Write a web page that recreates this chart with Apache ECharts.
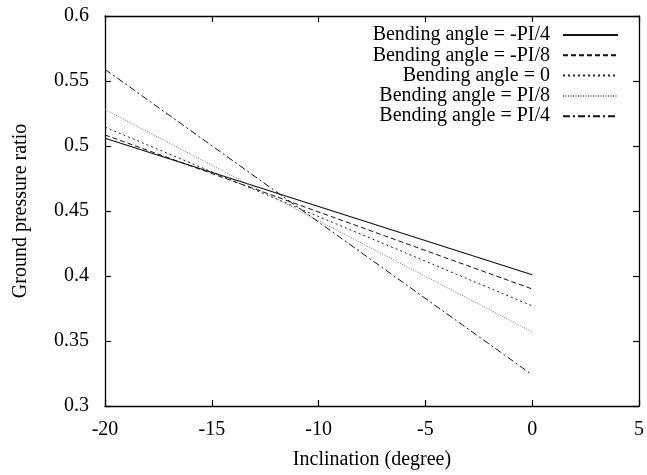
<!DOCTYPE html>
<html>
<head>
<meta charset="utf-8">
<script src="https://cdn.jsdelivr.net/npm/echarts@6/dist/echarts.min.js"></script>
<style>html,body{margin:0;padding:0;background:#fff;overflow:hidden;}#c{width:647px;height:475px;}</style>
</head>
<body>
<div id="c"></div>
<script>
const xValues = [-20, 0];
const seriesNames = ['Bending angle = -PI/4', 'Bending angle = -PI/8', 'Bending angle = 0', 'Bending angle = PI/8', 'Bending angle = PI/4'];
const sMinusPi4 = [0.506, 0.401];
const sMinusPi8 = [0.5085, 0.390];
const sZero = [0.5145, 0.377];
const sPi8 = [0.528, 0.357];
const sPi4 = [0.559, 0.324];
const xTicks = [-20, -15, -10, -5, 0, 5];
const yTicks = [0.3, 0.35, 0.4, 0.45, 0.5, 0.55, 0.6];

const allValues = [sMinusPi4, sMinusPi8, sZero, sPi8, sPi4];
const styles = [
  {type: 'solid', color: '#111', width: 1.2},
  {type: [5, 3], color: '#111', width: 1},
  {type: [2, 3], color: '#222', width: 1},
  {type: [1, 1.5], color: '#777', width: 1},
  {type: [7, 3, 2, 3], color: '#111', width: 1}
];
const font = 'Liberation Serif';
const fs = 20;
const chart = echarts.init(document.getElementById('c'));
const axisCommon = {
  axisLine: {show: true, onZero: false, lineStyle: {color: '#000', width: 1.3}},
  axisTick: {show: true, inside: true, length: 6, lineStyle: {color: '#000', width: 1.2}},
  splitLine: {show: false}
};
chart.setOption({
  animation: false,
  backgroundColor: '#fff',
  grid: {left: 105, right: 5, top: 16, bottom: 66, containLabel: false},
  legend: {
    orient: 'vertical', right: 28, top: 25, padding: 0,
    align: 'right', itemWidth: 55, itemHeight: 10, itemGap: 0.3,
    itemStyle: {opacity: 0},
    textStyle: {fontFamily: font, fontSize: fs, lineHeight: 20, color: '#000', padding: [0, 8, 0, 0]},
    data: seriesNames.map(n => ({name: n}))
  },
  xAxis: [
    Object.assign({
      type: 'value', min: -20, max: 5, interval: 5,
      name: 'Inclination (degree)', nameLocation: 'middle', nameGap: 44,
      nameTextStyle: {fontFamily: font, fontSize: fs, color: '#000'},
      axisLabel: {fontFamily: font, fontSize: fs, color: '#000', margin: 14,
        formatter: v => xTicks.includes(v) ? String(v) : ''}
    }, axisCommon),
    Object.assign({
      type: 'value', min: -20, max: 5, interval: 5, position: 'top',
      axisLabel: {show: false}
    }, axisCommon)
  ],
  yAxis: [
    Object.assign({
      type: 'value', min: 0.3, max: 0.6, interval: 0.05,
      name: 'Ground pressure ratio', nameLocation: 'middle', nameGap: 74,
      nameTextStyle: {fontFamily: font, fontSize: fs, color: '#000'},
      axisLabel: {fontFamily: font, fontSize: fs, color: '#000', margin: 16,
        formatter: v => { const t = yTicks.find(y => Math.abs(y - v) < 1e-9); return t === undefined ? '' : String(t); }}
    }, axisCommon),
    Object.assign({
      type: 'value', min: 0.3, max: 0.6, interval: 0.05, position: 'right',
      axisLabel: {show: false}
    }, axisCommon)
  ],
  series: seriesNames.map((name, i) => ({
    name: name, type: 'line', symbol: 'none', showSymbol: false,
    xAxisIndex: 0, yAxisIndex: 0,
    lineStyle: styles[i], itemStyle: {color: styles[i].color},
    data: xValues.map((x, j) => [x, allValues[i][j]])
  }))
});
</script>
</body>
</html>
